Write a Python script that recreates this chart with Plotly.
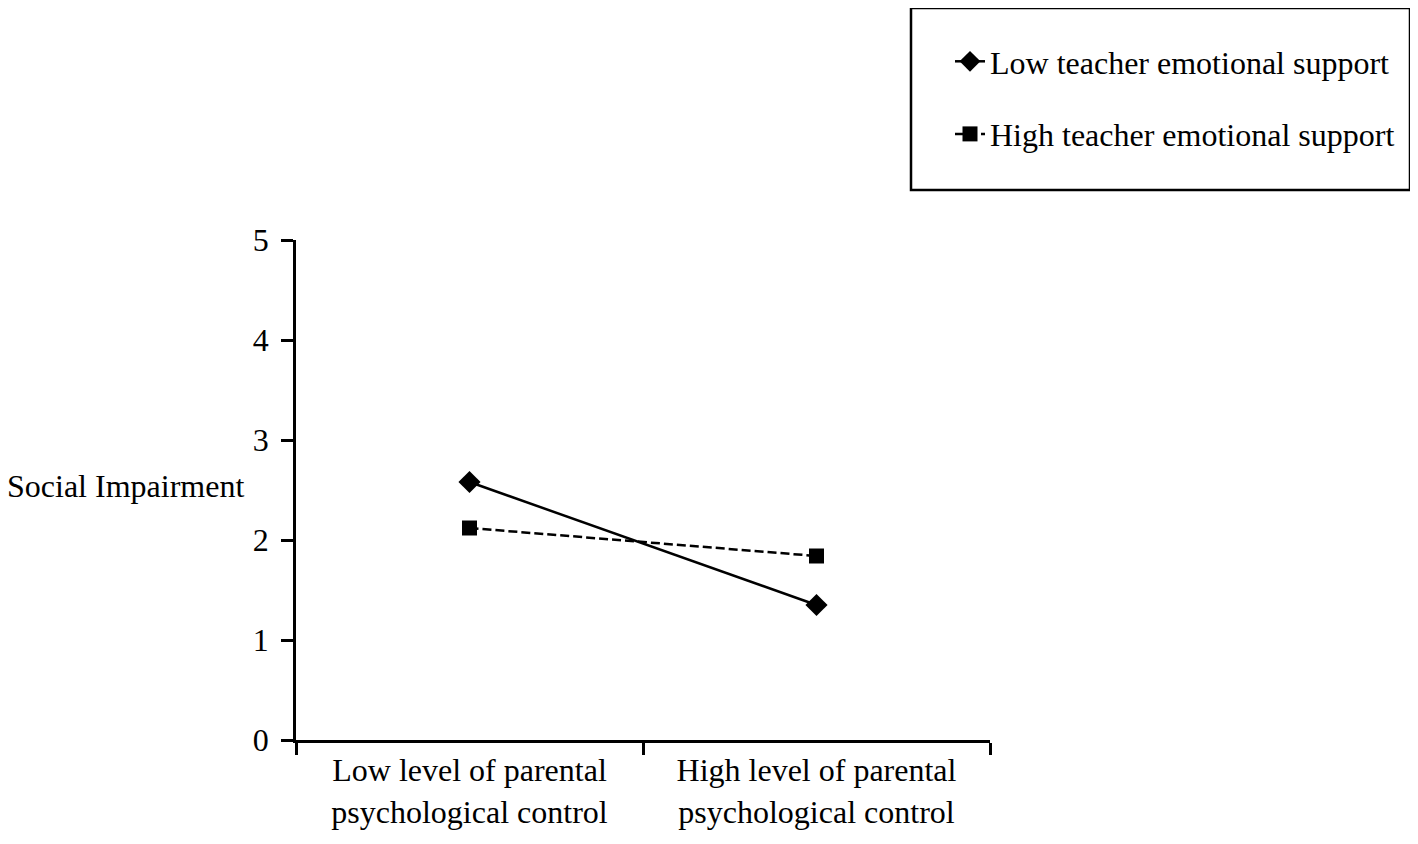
import plotly.graph_objects as go

categories = ["Low level of parental<br>psychological control",
              "High level of parental<br>psychological control"]
low_support = [2.58, 1.35]
high_support = [2.12, 1.84]
series_names = ["Low teacher emotional support", "High teacher emotional support"]
y_ticks = [0, 1, 2, 3, 4, 5]
y_title = "Social Impairment"

FONT = "Liberation Serif, Times New Roman, serif"
FS = 32

fig = go.Figure()
fig.add_trace(go.Scatter(
    x=categories, y=low_support, name=series_names[0], mode="lines+markers",
    line=dict(color="black", width=2.5),
    marker=dict(symbol="diamond", size=17, color="black"),
    legendgroup="a"))
fig.add_trace(go.Scatter(
    x=categories, y=high_support, name=series_names[1], mode="lines+markers",
    line=dict(color="black", width=2.5, dash="9px,4px"),
    marker=dict(symbol="square", size=15, color="black"),
    legendgroup="b"))

# page has an 8px body margin; work in screenshot pixel coordinates
OFF = 8
W, H = 1418 - OFF, 844 - OFF
L, R, T, B = 296, 990, 240, 740  # plot area in screenshot px
ml, mr, mt, mb = L - OFF, W - (R - OFF), T - OFF, H - (B - OFF)
pw, ph = W - ml - mr, H - mt - mb

def px_x(p):
    return (p - OFF - ml) / pw

def px_y(p):
    return (H - mb - (p - OFF)) / ph

fig.update_layout(
    width=W, height=H,
    margin=dict(l=ml, r=mr, t=mt, b=mb),
    paper_bgcolor="white", plot_bgcolor="white",
    font=dict(family=FONT, size=FS, color="black"),
    showlegend=True,
    legend=dict(x=px_x(950), y=px_y(34), xanchor="left", yanchor="top",
                bgcolor="rgba(0,0,0,0)", borderwidth=0,
                tracegroupgap=28, font=dict(size=FS, family=FONT),
                itemwidth=30),
    xaxis=dict(type="category", range=[-0.5, 1.5], showline=True,
               linecolor="black", linewidth=2.5, ticks="outside",
               tickson="boundaries", ticklen=12, tickwidth=2.5,
               tickcolor="black", showgrid=False, zeroline=False,
               tickfont=dict(size=FS, family=FONT)),
    yaxis=dict(range=[0, 5], tickvals=y_ticks, showline=True,
               linecolor="black", linewidth=2.5, ticks="outside",
               ticklen=12, tickwidth=2.5, tickcolor="black",
               ticklabelstandoff=6,
               showgrid=False, zeroline=False,
               tickfont=dict(size=FS, family=FONT)),
    shapes=[dict(type="rect", xref="paper", yref="paper",
                 x0=px_x(911), x1=px_x(1410), y0=px_y(190), y1=px_y(8),
                 line=dict(color="black", width=2.5))],
    annotations=[dict(text=y_title, xref="paper", yref="y",
                      x=px_x(246), y=2.54, xanchor="right", yanchor="middle",
                      showarrow=False, font=dict(size=FS, family=FONT))],
)

fig.write_html("out.html")
